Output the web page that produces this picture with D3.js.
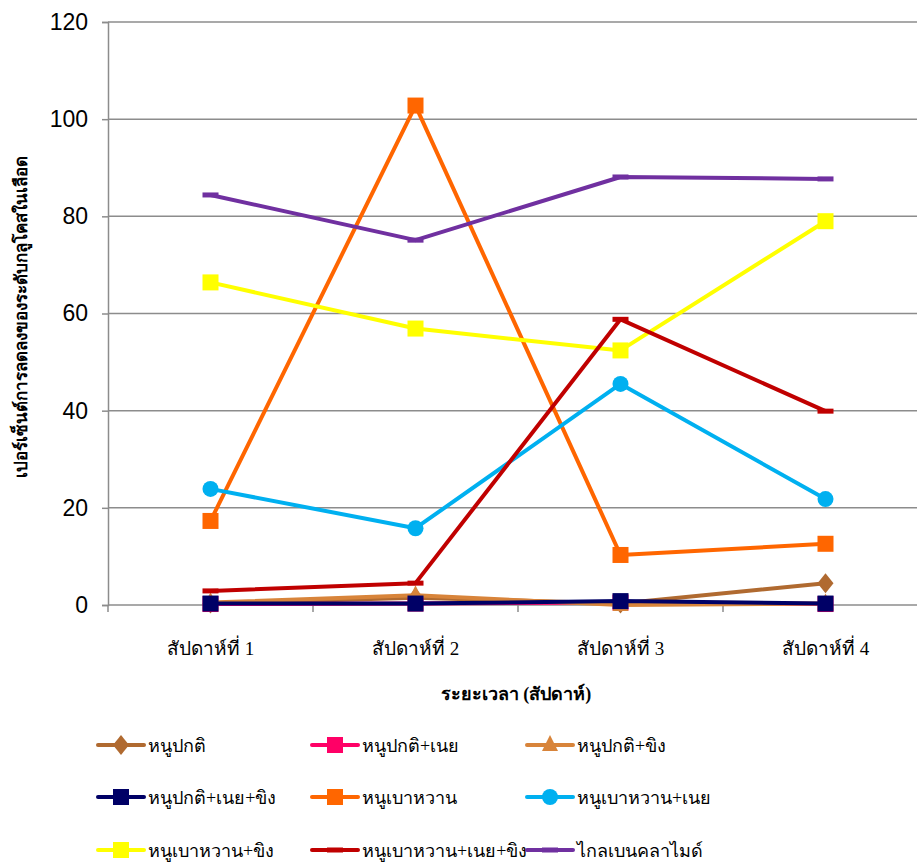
<!DOCTYPE html>
<html>
<head>
<meta charset="utf-8">
<script src="https://cdn.jsdelivr.net/npm/d3@7"></script>
<style>
  body { margin: 0; background: #fff; }
  svg { display: block; }
</style>
</head>
<body>
<div id="chart"></div>
<script>
// weeks on the x axis
const weeks = ['สัปดาห์ที่ 1', 'สัปดาห์ที่ 2', 'สัปดาห์ที่ 3', 'สัปดาห์ที่ 4'];
const yTicks = [0, 20, 40, 60, 80, 100, 120];

// series, in legend order
const seriesNames = [
  'หนูปกติ', 'หนูปกติ+เนย', 'หนูปกติ+ขิง',
  'หนูปกติ+เนย+ขิง', 'หนูเบาหวาน', 'หนูเบาหวาน+เนย',
  'หนูเบาหวาน+ขิง', 'หนูเบาหวาน+เนย+ขิง', 'ไกลเบนคลาไมด์'
];
const normal          = [0.3, 1.5, 0.3, 4.5];
const normalButter    = [0.2, 0.3, 0.5, 0.2];
const normalGinger    = [0.5, 2.0, 0.0, 0.3];
const normalBothMix   = [0.3, 0.3, 0.8, 0.3];
const diabetic        = [17.3, 102.8, 10.3, 12.6];
const diabeticButter  = [23.9, 15.8, 45.5, 21.8];
const diabeticGinger  = [66.4, 56.9, 52.4, 79.0];
const diabeticBoth    = [2.9, 4.5, 58.8, 39.9];
const glibenclamide   = [84.4, 75.1, 88.1, 87.7];
const seriesValues = [normal, normalButter, normalGinger, normalBothMix, diabetic,
                      diabeticButter, diabeticGinger, diabeticBoth, glibenclamide];

const colors  = ['#B06A30', '#FF0066', '#D8843A', '#000066', '#FF6600', '#00B0F0', '#FFFF00', '#C00000', '#7030A0'];
const symbols = ['diamond', 'square', 'triangle', 'square', 'square', 'circle', 'square', 'dash', 'dash'];

const width = 917, height = 867;
const margin = { top: 22, left: 108, plotRight: 928, bottom: 605 };

const svg = d3.select('#chart').append('svg')
  .attr('width', width)
  .attr('height', height);

const x = d3.scaleBand()
  .domain(weeks)
  .range([margin.left, margin.plotRight]);

const y = d3.scaleLinear()
  .domain([0, 120])
  .range([margin.bottom, margin.top]);

// horizontal grid
svg.append('g')
  .selectAll('line')
  .data(yTicks)
  .enter()
  .append('line')
  .attr('x1', margin.left)
  .attr('x2', width)
  .attr('y1', d => y(d))
  .attr('y2', d => y(d))
  .attr('stroke', '#8c8c8c')
  .attr('stroke-width', 1.5);

// y axis
const yAxis = svg.append('g')
  .attr('transform', `translate(${margin.left},0)`)
  .call(d3.axisLeft(y).tickValues(yTicks).tickSize(6).tickPadding(14));
yAxis.select('.domain').attr('stroke', '#8c8c8c').attr('stroke-width', 1.5);
yAxis.selectAll('.tick line').attr('stroke', '#8c8c8c').attr('stroke-width', 1.5);
yAxis.selectAll('.tick text')
  .style('font-family', '"Liberation Sans", Arial, sans-serif')
  .style('font-size', '23px')
  .attr('fill', '#000');

// x axis: ticks sit on band edges
const bandEdges = weeks.map(w => x(w)).concat([x(weeks[weeks.length - 1]) + x.bandwidth()]);
svg.append('g')
  .selectAll('line')
  .data(bandEdges)
  .enter()
  .append('line')
  .attr('x1', d => d).attr('x2', d => d)
  .attr('y1', margin.bottom).attr('y2', margin.bottom + 7)
  .attr('stroke', '#8c8c8c')
  .attr('stroke-width', 1.5);

svg.append('g')
  .selectAll('text')
  .data(weeks)
  .enter()
  .append('text')
  .attr('x', d => x(d) + x.bandwidth() / 2)
  .attr('y', 655)
  .attr('text-anchor', 'middle')
  .style('font-family', '"Liberation Serif", serif')
  .style('font-size', '19px')
  .text(d => d);

// axis titles
svg.append('text')
  .attr('x', 516)
  .attr('y', 700)
  .attr('text-anchor', 'middle')
  .style('font-family', '"Liberation Serif", serif')
  .style('font-size', '18px')
  .style('font-weight', 'bold')
  .text('ระยะเวลา (สัปดาห์)');

svg.append('text')
  .attr('transform', 'translate(27,317) rotate(-90)')
  .attr('text-anchor', 'middle')
  .style('font-family', '"DejaVu Sans", sans-serif')
  .style('font-size', '17px')
  .style('font-weight', 'bold')
  .text('เปอร์เซ็นต์การลดลงของระดับกลูโคสในเลือด');

function drawMarker(g, kind, color, cx, cy) {
  if (kind === 'square') {
    g.append('rect').attr('x', cx - 8).attr('y', cy - 8).attr('width', 16).attr('height', 16).attr('fill', color);
  } else if (kind === 'circle') {
    g.append('circle').attr('cx', cx).attr('cy', cy).attr('r', 8).attr('fill', color);
  } else if (kind === 'diamond') {
    g.append('path').attr('d', `M${cx},${cy - 10}L${cx + 8},${cy}L${cx},${cy + 10}L${cx - 8},${cy}Z`).attr('fill', color);
  } else if (kind === 'triangle') {
    g.append('path').attr('d', `M${cx},${cy - 10}L${cx + 8},${cy + 6}L${cx - 8},${cy + 6}Z`).attr('fill', color);
  } else if (kind === 'dash') {
    g.append('rect').attr('x', cx - 8).attr('y', cy - 2.5).attr('width', 16).attr('height', 5).attr('fill', color);
  }
}

const line = d3.line()
  .x((d, i) => x(weeks[i]) + x.bandwidth() / 2)
  .y(d => y(d));

// draw series in legend order, later ones on top
seriesValues.forEach((vals, s) => {
  const g = svg.append('g').attr('class', 'series');
  g.append('path')
    .datum(vals)
    .attr('d', line)
    .attr('fill', 'none')
    .attr('stroke', colors[s])
    .attr('stroke-width', 4)
    .attr('stroke-linejoin', 'round');
  vals.forEach((v, i) => drawMarker(g, symbols[s], colors[s], x(weeks[i]) + x.bandwidth() / 2, y(v)));
});

// legend, 3 columns
const legendCols = [98, 312, 527];
const legendRows = [745, 797, 850];
const legend = svg.append('g');
seriesNames.forEach((name, s) => {
  const lx = legendCols[s % 3], ly = legendRows[Math.floor(s / 3)];
  const g = legend.append('g');
  g.append('line')
    .attr('x1', lx).attr('x2', lx + 46)
    .attr('y1', ly).attr('y2', ly)
    .attr('stroke', colors[s])
    .attr('stroke-width', 4)
    .attr('stroke-linecap', 'round');
  drawMarker(g, symbols[s], colors[s], lx + 23, ly);
  g.append('text')
    .attr('x', lx + 50)
    .attr('y', ly + 7)
    .style('font-family', '"Liberation Serif", serif')
    .style('font-size', '18px')
    .text(name);
});
</script>
</body>
</html>
